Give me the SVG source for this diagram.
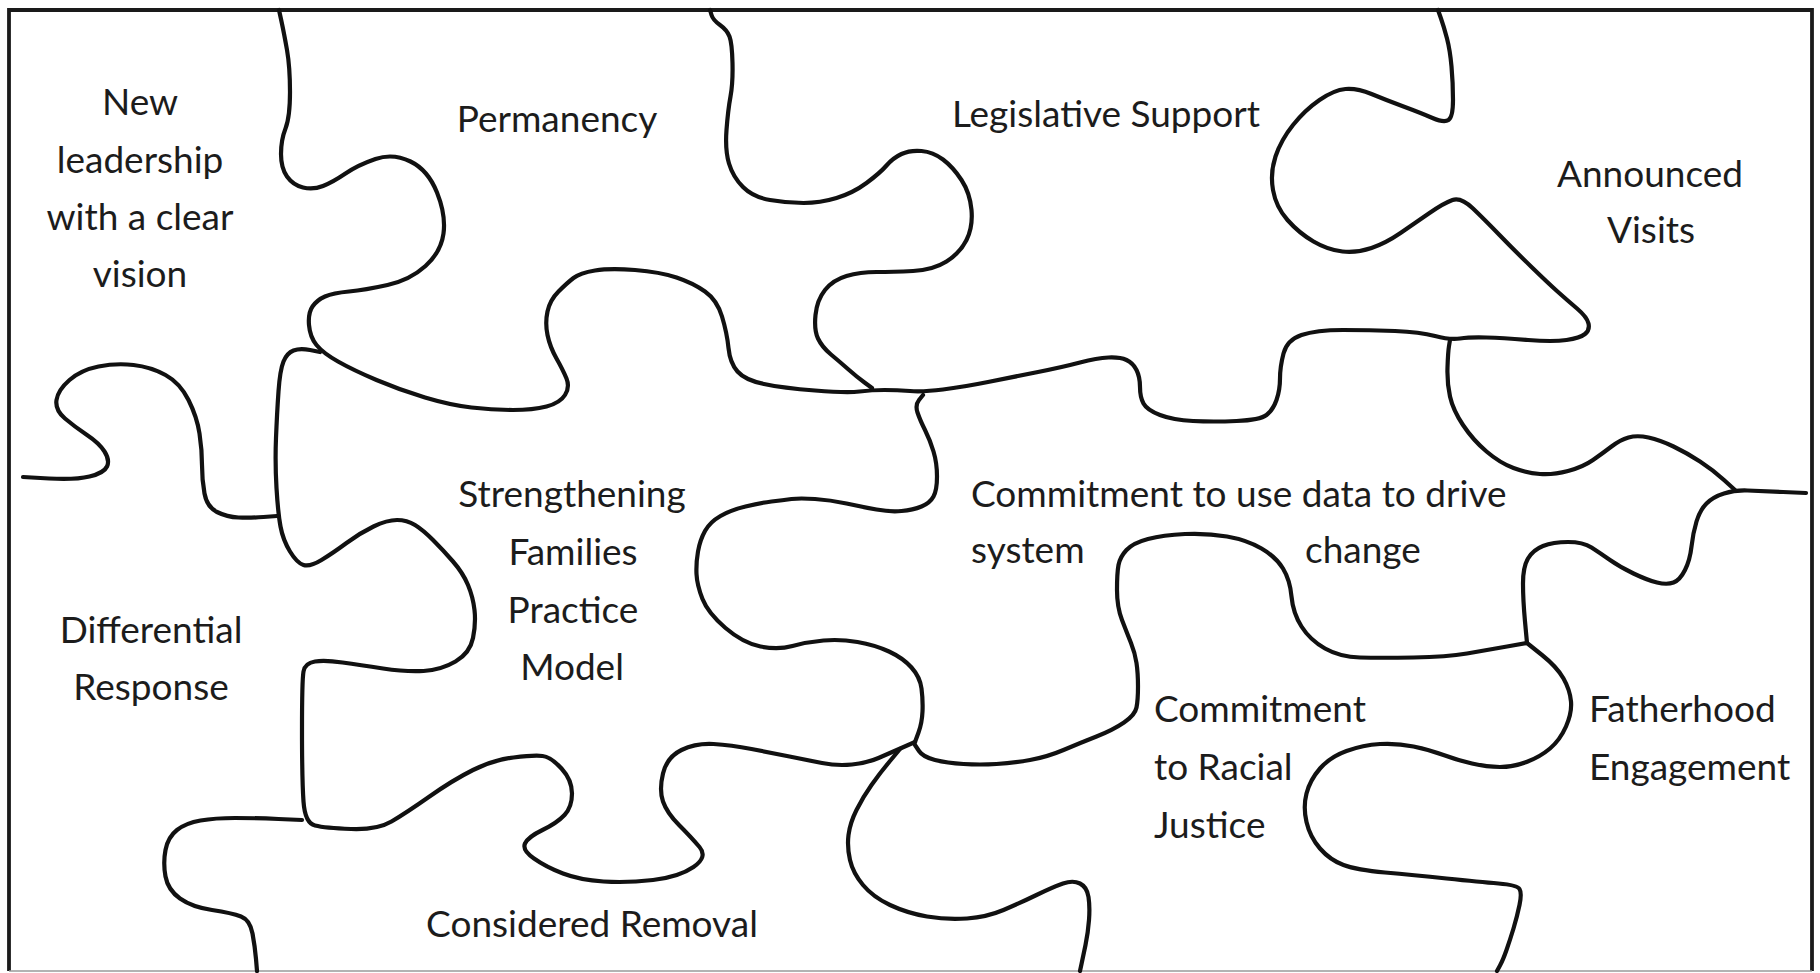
<svg xmlns="http://www.w3.org/2000/svg" width="1820" height="973" viewBox="0 0 1820 973">
<style>
.edge{fill:none;stroke:#111111;stroke-width:4.2;stroke-linecap:round;stroke-linejoin:round}
.lbl{font-family:Lato,"Open Sans","Liberation Sans",sans-serif;font-size:37px;fill:#1c1c1c}
.c{text-anchor:middle}
</style>
<rect x="0" y="0" width="1820" height="973" fill="#ffffff"/>
<g id="frame">
<path d="M 9 971 L 9 10 L 1812 10 L 1812 971" fill="none" stroke="#1a1a1a" stroke-width="3.8"/>
<path d="M 9 971 L 1812 971" fill="none" stroke="#9a9a9a" stroke-width="1.5"/>
</g>
<g id="connectors">
<path class="edge" d="M 279 10 L 281.5 21.5 Q 284 33 287 50 Q 290 67 290 92 Q 290 117 285.5 128.5 Q 281 140 281 154 Q 281 168 287 176.5 Q 293 185 303 187.5 Q 313 190 323 186 Q 333 182 345.5 173.5 Q 358 165 375.5 159 Q 393 153 410.5 161.5 Q 428 170 437 192.5 Q 446 215 443.5 233.5 Q 441 252 425.5 266 Q 410 280 387.5 285 Q 365 290 349 291.5 Q 333 293 325 296.5 Q 317 300 312.5 306.5 Q 308 313 309 325 Q 310 337 316.5 345 Q 323 353 338 361.5 Q 353 370 376.5 380 Q 400 390 425 397.5 Q 450 405 471.5 407.5 Q 493 410 513 410 Q 533 410 546.5 406.5 Q 560 403 565 395 Q 570 387 566.5 378.5 Q 563 370 556.5 358.5 Q 550 347 547.5 335 Q 545 323 547.5 311.5 Q 550 300 558.5 291.5 Q 567 283 573.5 278 Q 580 273 595 270.5 Q 610 268 635 270 Q 660 272 676.5 277.5 Q 693 283 705 291.5 Q 717 300 722 316.5 Q 727 333 728.5 348 Q 730 363 737.5 371.5 Q 745 380 764 384 Q 783 388 815 390.5 Q 847 393 859.5 391.5 Q 872 390 884.5 390 Q 897 390 910 391 Q 923 392 943 389.5 Q 963 387 988 382 Q 1013 377 1038 372 Q 1063 367 1080 362.5 Q 1097 358 1108.5 357.5 Q 1120 357 1126.5 360 Q 1133 363 1136.5 370 Q 1140 377 1140 387 Q 1140 397 1143.5 403.5 Q 1147 410 1160 415 Q 1173 420 1193 421 Q 1213 422 1236.5 421 Q 1260 420 1266.5 415 Q 1273 410 1276.5 400 Q 1280 390 1280 378.5 Q 1280 367 1283.5 353.5 Q 1287 340 1301.5 335 Q 1316 330 1343 330 Q 1370 330 1395 331 Q 1420 332 1435 336 Q 1450 340 1460 338.5 Q 1470 337 1486.5 337.5 Q 1503 338 1528 340 Q 1553 342 1566.5 340 Q 1580 338 1585 334 Q 1590 330 1588.5 323.5 Q 1587 317 1577 308.5 Q 1567 300 1557.5 291.5 Q 1548 283 1531 266.5 Q 1514 250 1499.5 235 Q 1485 220 1473 208.5 Q 1461 197 1452.5 200 Q 1444 203 1429.5 213 Q 1415 223 1400.5 233 Q 1386 243 1371.5 248 Q 1357 253 1342.5 251.5 Q 1328 250 1313.5 241.5 Q 1299 233 1287.5 220 Q 1276 207 1273 190 Q 1270 173 1275.5 156.5 Q 1281 140 1293 125 Q 1305 110 1319.5 100 Q 1334 90 1345.5 89 Q 1357 88 1371.5 94 Q 1386 100 1403.5 106.5 Q 1421 113 1432.5 118 Q 1444 123 1448.5 120 Q 1453 117 1453 100 Q 1453 83 1451.5 66.5 Q 1450 50 1447 38.5 Q 1444 27 1441 18.5 L 1438 10"/>
<path class="edge" d="M 710 10 L 711.5 15 Q 713 20 720 25 Q 727 30 729.5 36.5 Q 732 43 732.5 63 Q 733 83 730.5 96.5 Q 728 110 726.5 130 Q 725 150 729 163.5 Q 733 177 743 187 Q 753 197 770 200 Q 787 203 803.5 203 Q 820 203 836.5 198 Q 853 193 866.5 183 Q 880 173 886.5 165.5 Q 893 158 901.5 154 Q 910 150 921.5 151 Q 933 152 943 159.5 Q 953 167 961.5 180 Q 970 193 971.5 210 Q 973 227 966.5 240 Q 960 253 946.5 261.5 Q 933 270 913 271 Q 893 272 876.5 272 Q 860 272 846.5 276 Q 833 280 825 290 Q 817 300 815.5 315 Q 814 330 818 338.5 Q 822 347 831 354.5 Q 840 362 848.5 369.5 Q 857 377 864.5 382.5 L 872 388"/>
<path class="edge" d="M 320 352 L 310 350 Q 300 348 293.5 350.5 Q 287 353 283.5 361.5 Q 280 370 278.5 391.5 Q 277 413 276 438 Q 275 463 276.5 488 Q 278 513 280.5 526.5 Q 283 540 290 551.5 Q 297 563 303.5 565 Q 310 567 321.5 560 Q 333 553 346.5 543 Q 360 533 373.5 526.5 Q 387 520 397 520 Q 407 520 415 525 Q 423 530 433 540 Q 443 550 453 561.5 Q 463 573 468 585 Q 473 597 474.5 610 Q 476 623 473 638 Q 470 653 455.5 661.5 Q 441 670 423.5 671 Q 406 672 383 668.5 Q 360 665 342.5 662.5 Q 325 660 315 661.5 Q 305 663 303.5 671.5 Q 302 680 302 730 Q 302 780 303.5 801.5 Q 305 823 315 825.5 Q 325 828 351 829 Q 377 830 391.5 821.5 Q 406 813 429.5 796.5 Q 453 780 473 770 Q 493 760 513.5 757.5 Q 534 755 542.5 756 Q 551 757 561.5 768.5 Q 572 780 572 793.5 Q 572 807 564.5 815 Q 557 823 542.5 830 Q 528 837 525 843.5 Q 522 850 534 858.5 Q 546 867 563 873.5 Q 580 880 603.5 881.5 Q 627 883 653 880 Q 679 877 693.5 867 Q 708 857 699.5 847 Q 691 837 679 825 Q 667 813 663 801.5 Q 659 790 663 773.5 Q 667 757 681.5 750 Q 696 743 713.5 744 Q 731 745 751.5 749 Q 772 753 789.5 756.5 Q 807 760 822 763 Q 837 766 852 764.5 Q 867 763 878.5 758 Q 890 753 902.5 747.5 L 915 742"/>
<path class="edge" d="M 23 477 L 49 478.5 Q 75 480 89.5 476.5 Q 104 473 107 466.5 Q 110 460 104.5 451.5 Q 99 443 87 435 Q 75 427 65 418.5 Q 55 410 56.5 400 Q 58 390 69.5 380 Q 81 370 98.5 366.5 Q 116 363 133.5 365 Q 151 367 165.5 375 Q 180 383 188.5 400 Q 197 417 199.5 433.5 Q 202 450 202 465 Q 202 480 204.5 493.5 Q 207 507 217 512 Q 227 517 238.5 517.5 Q 250 518 263.5 517 L 277 516"/>
<path class="edge" d="M 302 820 L 278.5 819 Q 255 818 235 818 Q 215 818 200.5 820.5 Q 186 823 177 830 Q 168 837 165.5 850 Q 163 863 165.5 876.5 Q 168 890 180 898.5 Q 192 907 212 910 Q 232 913 241 916.5 Q 250 920 252.5 933.5 Q 255 947 256 959 L 257 971"/>
<path class="edge" d="M 923 395 L 919 400 Q 915 405 917.5 412.5 Q 920 420 925 430 Q 930 440 933.5 451.5 Q 937 463 937 476.5 Q 937 490 933.5 496.5 Q 930 503 921.5 506.5 Q 913 510 901.5 511 Q 890 512 876.5 509.5 Q 863 507 846.5 503.5 Q 830 500 815 499 Q 800 498 791.5 499 Q 783 500 771.5 501.5 Q 760 503 745.5 506.5 Q 731 510 720.5 516 Q 710 522 705 531 Q 700 540 698 551.5 Q 696 563 696.5 574 Q 697 585 702.5 599 Q 708 613 725.5 628 Q 743 643 760.5 646.5 Q 778 650 792.5 646 Q 807 642 823.5 640.5 Q 840 639 857.5 642 Q 875 645 889 651.5 Q 903 658 911.5 667.5 Q 920 677 921.5 688.5 Q 923 700 922.5 711.5 Q 922 723 918.5 732.5 L 915 742"/>
<path class="edge" d="M 915 745 L 919 751 Q 923 757 935 760 Q 947 763 963.5 764 Q 980 765 996.5 764 Q 1013 763 1030 760 Q 1047 757 1063.5 750 Q 1080 743 1096.5 736.5 Q 1113 730 1124 722.5 Q 1135 715 1136.5 707.5 Q 1138 700 1138 686.5 Q 1138 673 1136.5 663 Q 1135 653 1131 643 Q 1127 633 1122 620 Q 1117 607 1117 590 Q 1117 573 1118.5 565 Q 1120 557 1126.5 550 Q 1133 543 1148 539 Q 1163 535 1185 534 Q 1207 533 1227 536.5 Q 1247 540 1261.5 548.5 Q 1276 557 1283 568.5 Q 1290 580 1291.5 596.5 Q 1293 613 1301.5 626.5 Q 1310 640 1325 648.5 Q 1340 657 1360 657.5 Q 1380 658 1413.5 657.5 Q 1447 657 1467 653.5 Q 1487 650 1507 646.5 L 1527 643"/>
<path class="edge" d="M 1527 643 L 1542 655 Q 1557 667 1563.5 678.5 Q 1570 690 1571 701.5 Q 1572 713 1566 726.5 Q 1560 740 1550 748.5 Q 1540 757 1526.5 762 Q 1513 767 1500 767 Q 1487 767 1472 763.5 Q 1457 760 1443.5 755 Q 1430 750 1413.5 746.5 Q 1397 743 1380 744 Q 1363 745 1346.5 751 Q 1330 757 1320 768.5 Q 1310 780 1306.5 793.5 Q 1303 807 1306.5 822 Q 1310 837 1320 848.5 Q 1330 860 1343.5 865 Q 1357 870 1385 872.5 Q 1413 875 1446.5 878.5 Q 1480 882 1498.5 883.5 Q 1517 885 1519.5 889 Q 1522 893 1519.5 905 Q 1517 917 1513.5 928.5 Q 1510 940 1506.5 950 Q 1503 960 1500 965.5 L 1497 971"/>
<path class="edge" d="M 1527 643 L 1525 621.5 Q 1523 600 1523 583.5 Q 1523 567 1528 558.5 Q 1533 550 1543 546 Q 1553 542 1568 542 Q 1583 542 1591.5 547.5 Q 1600 553 1610 560 Q 1620 567 1633.5 573.5 Q 1647 580 1657 582.5 Q 1667 585 1673.5 582.5 Q 1680 580 1685 570 Q 1690 560 1691.5 546.5 Q 1693 533 1696.5 521.5 Q 1700 510 1706.5 503.5 Q 1713 497 1724 493.5 Q 1735 490 1747.5 490.5 Q 1760 491 1783 492 L 1806 493"/>
<path class="edge" d="M 1450 340 L 1449 346 Q 1448 352 1447.5 367.5 Q 1447 383 1450 396.5 Q 1453 410 1463 425 Q 1473 440 1486.5 451.5 Q 1500 463 1513.5 468 Q 1527 473 1540 474 Q 1553 475 1568 471 Q 1583 467 1593 460 Q 1603 453 1611.5 446.5 Q 1620 440 1628.5 437.5 Q 1637 435 1648.5 437.5 Q 1660 440 1673.5 446.5 Q 1687 453 1700 461.5 Q 1713 470 1724 480 L 1735 490"/>
<path class="edge" d="M 900 749 L 890 761 Q 880 773 871.5 785 Q 863 797 856.5 810 Q 850 823 848.5 835 Q 847 847 850 860 Q 853 873 863 885 Q 873 897 890 905 Q 907 913 927 916.5 Q 947 920 967 918.5 Q 987 917 1003.5 910 Q 1020 903 1036.5 895 Q 1053 887 1063 883.5 Q 1073 880 1080 883.5 Q 1087 887 1088.5 897 Q 1090 907 1089 920 Q 1088 933 1085.5 945 Q 1083 957 1081.5 964 L 1080 971"/>
</g>
<g id="piece-leadership"><text class="lbl c" x="140" y="115">New</text><text class="lbl c" x="140" y="173">leadership</text><text class="lbl c" x="140" y="230">with a clear</text><text class="lbl c" x="140" y="287">vision</text></g>
<g id="piece-permanency"><text class="lbl c" x="557" y="132">Permanency</text></g>
<g id="piece-legislative"><text class="lbl c" x="1106" y="127">Legislative Support</text></g>
<g id="piece-announced"><text class="lbl c" x="1650" y="187">Announced</text><text class="lbl c" x="1651" y="243">Visits</text></g>
<g id="piece-differential"><text class="lbl c" x="151" y="643">Differential</text><text class="lbl c" x="151" y="700">Response</text></g>
<g id="piece-strengthening"><text class="lbl c" x="572" y="507">Strengthening</text><text class="lbl c" x="573" y="565">Families</text><text class="lbl c" x="573" y="623">Practice</text><text class="lbl c" x="572" y="680">Model</text></g>
<g id="piece-data"><text class="lbl" x="971" y="507">Commitment to use data to drive</text><text class="lbl" x="971" y="563">system</text><text class="lbl" x="1305" y="563">change</text></g>
<g id="piece-racial"><text class="lbl" x="1154" y="722">Commitment</text><text class="lbl" x="1154" y="780">to Racial</text><text class="lbl" x="1154" y="838">Justice</text></g>
<g id="piece-fatherhood"><text class="lbl" x="1589" y="722">Fatherhood</text><text class="lbl" x="1589" y="780">Engagement</text></g>
<g id="piece-removal"><text class="lbl c" x="592" y="937">Considered Removal</text></g>
</svg>
